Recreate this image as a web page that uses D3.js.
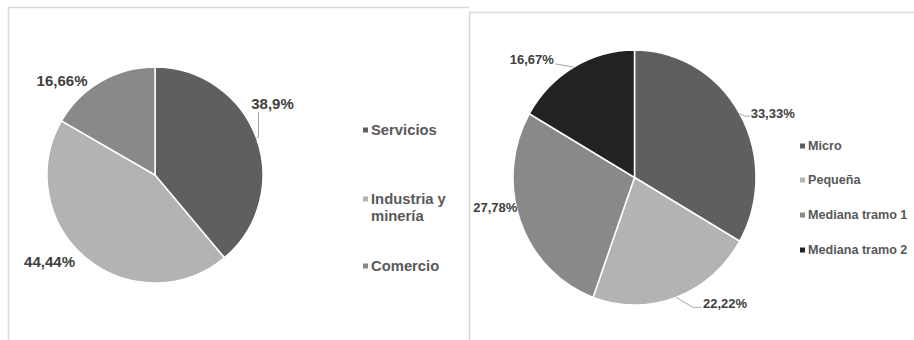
<!DOCTYPE html>
<html>
<head>
<meta charset="utf-8">
<script src="https://cdn.jsdelivr.net/npm/d3@7"></script>
<style>
  body { margin: 0; background: #fff; }
  svg { display: block; font-family: "Liberation Sans", Arial, sans-serif; }
</style>
</head>
<body>
<div id="chart"></div>
<script>
// left chart: sector
const sectorNames = ["Servicios", "Industria y minería", "Comercio"];
const sectorValues = [38.9, 44.44, 16.66];
const sectorLabels = ["38,9%", "44,44%", "16,66%"];

// right chart: company size
const sizeNames = ["Micro", "Pequeña", "Mediana tramo 1", "Mediana tramo 2"];
const sizeValues = [33.33, 22.22, 27.78, 16.67];
const sizeLabels = ["33,33%", "22,22%", "27,78%", "16,67%"];

const width = 914, height = 340;

const svg = d3.select("#chart").append("svg")
  .attr("width", width)
  .attr("height", height);

// panel borders
const border = "#d9d9d9";
svg.append("path").attr("d", "M8.5,340 V7.5 H469").attr("fill", "none").attr("stroke", border).attr("stroke-width", 1.5);
svg.append("path").attr("d", "M469.5,340 V12.5 H914").attr("fill", "none").attr("stroke", border).attr("stroke-width", 1.5);

function drawPie(opts) {
  const g = svg.append("g")
    .attr("transform", "translate(" + opts.cx + "," + opts.cy + ")");

  const pie = d3.pie().sort(null).value(d => d.value);
  const arcs = pie(opts.names.map((n, i) => ({name: n, value: opts.values[i], label: opts.labels[i]})));

  const arc = d3.arc().innerRadius(0).outerRadius(opts.r);

  const slices = g.append("g").attr("transform", "scale(1," + opts.sy + ")");
  slices.selectAll("path").data(arcs)
    .enter().append("path")
      .attr("d", arc)
      .attr("fill", (d, i) => opts.colors[i])
      .attr("stroke", "#fff")
      .attr("stroke-width", 1.5);

  // point on the rim at the middle of each slice
  const rim = d => {
    const a = (d.startAngle + d.endAngle) / 2;
    return [opts.r * Math.sin(a), -opts.r * opts.sy * Math.cos(a)];
  };

  arcs.forEach((d, i) => {
    const p = rim(d);
    const lay = opts.layout[i];
    const lx = p[0] + lay.dx, ly = p[1] + lay.dy;
    if (lay.leader) {
      const pts = [p].concat(lay.leader.map(q => [p[0] + q[0], p[1] + q[1]]));
      g.append("path")
        .attr("d", d3.line()(pts))
        .attr("fill", "none")
        .attr("stroke", "#a6a6a6")
        .attr("stroke-width", 1);
    }
    g.append("text")
      .attr("x", lx)
      .attr("y", ly)
      .attr("text-anchor", "middle")
      .attr("dominant-baseline", "central")
      .attr("font-size", opts.labelSize)
      .attr("font-weight", "bold")
      .attr("fill", "#404040")
      .text(d.data.label);
  });

  // legend
  const leg = svg.append("g");
  opts.legend.forEach((row, i) => {
    leg.append("rect")
      .attr("x", opts.legX)
      .attr("y", row.y - 2.5)
      .attr("width", 5)
      .attr("height", 5)
      .attr("fill", opts.colors[i]);
    const t = leg.append("text")
      .attr("x", opts.legX + 8)
      .attr("y", row.y)
      .attr("dominant-baseline", "central")
      .attr("font-size", opts.legSize)
      .attr("font-weight", "bold")
      .attr("fill", "#595959");
    row.lines.forEach((ln, k) => {
      t.append("tspan").attr("x", opts.legX + 8).attr("dy", k ? opts.legSize * 1.15 : 0).text(ln);
    });
  });
}

drawPie({
  cx: 155, cy: 175, r: 108, sy: 1,
  names: sectorNames, values: sectorValues, labels: sectorLabels,
  colors: ["#5f5f5f", "#b3b3b3", "#898989"],
  labelSize: 15,
  layout: [
    {dx: 16, dy: -35, leader: [[2, -1], [2, -26]]},
    {dx: -36, dy: 4},
    {dx: -39, dy: -1}
  ],
  legX: 363, legSize: 14.8,
  legend: [
    {y: 130, lines: ["Servicios"]},
    {y: 199, lines: ["Industria y", "minería"]},
    {y: 266, lines: ["Comercio"]}
  ]
});

drawPie({
  cx: 634.5, cy: 177.5, r: 121.5, sy: 1.05,
  names: sizeNames, values: sizeValues, labels: sizeLabels,
  colors: ["#5f5f5f", "#b3b3b3", "#898989", "#222222"],
  labelSize: 13,
  layout: [
    {dx: 33, dy: 0, leader: [[5, 2.5], [10, 2.5]]},
    {dx: 49, dy: 6, leader: [[17, 10], [25, 10]]},
    {dx: -25, dy: -14},
    {dx: -42, dy: -8, leader: [[-18, -3]]}
  ],
  legX: 800, legSize: 12.6,
  legend: [
    {y: 146, lines: ["Micro"]},
    {y: 180, lines: ["Pequeña"]},
    {y: 215, lines: ["Mediana tramo 1"]},
    {y: 250, lines: ["Mediana tramo 2"]}
  ]
});
</script>
</body>
</html>
